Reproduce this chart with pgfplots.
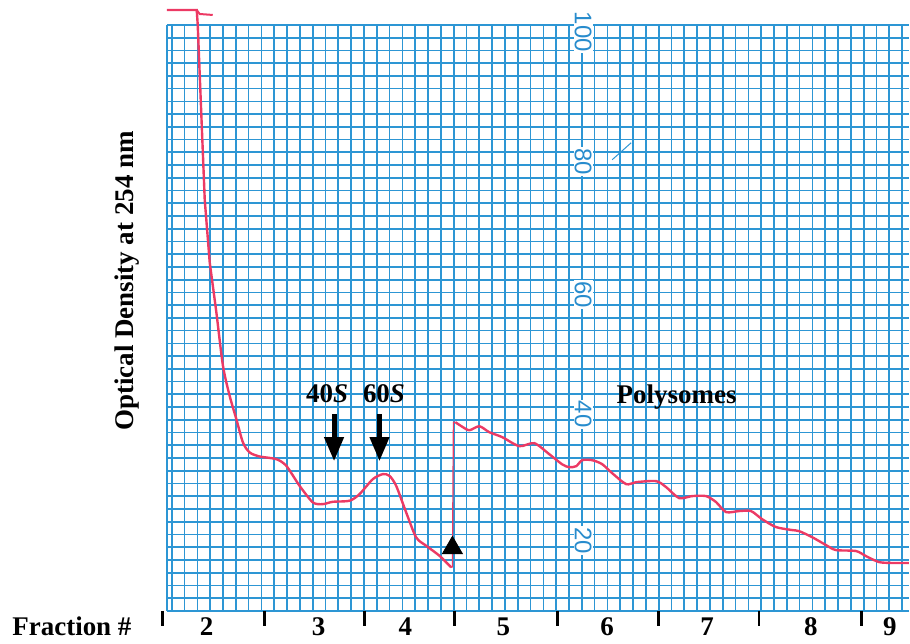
\documentclass[border=0pt]{standalone}
\usepackage{fontspec}
\setmainfont{Liberation Serif}
\setsansfont{Liberation Sans}
\usepackage{pgfplots}
\pgfplotsset{compat=1.18}
\usetikzlibrary{arrows.meta}
\definecolor{gridblue}{RGB}{45,150,212}
\definecolor{labblue}{RGB}{40,140,205}
\definecolor{tracered}{RGB}{236,58,100}
\tikzset{scalelab/.style={rotate=-90, fill=white, inner sep=0.6pt, text=labblue,
        font=\sffamily\fontsize{12}{13}\selectfont},
  boldlab/.style={font=\fontsize{13.5}{15}\selectfont\bfseries},
  fractick/.style={line width=1.5pt}}
\begin{document}
\begin{tikzpicture}
\begin{axis}[
  scale only axis, width=371.5pt, height=293.35pt,
  xmin=167, xmax=910, ymin=8, ymax=100,
  axis line style={draw=none},
  xtick={172,184.83,...,910}, ytick={8,10,...,100},
  xticklabels={}, yticklabels={},
  major tick length=0pt,
  grid=major, major grid style={gridblue, line width=0.85pt},
  extra x ticks={167}, extra x tick labels={},
  extra x tick style={grid=major, major tick length=0pt},
  clip=false,
]
% invisible frame matching the reference canvas
\path (axis cs:0,103.92) rectangle (axis cs:910,2.82);

% scale labels on the chart paper
\node[scalelab] at (axis cs:584,98.9) {100};
\node[scalelab] at (axis cs:584,78.5) {80};
\node[scalelab] at (axis cs:584,57.7) {60};
\node[scalelab] at (axis cs:584,38.9) {40};
\node[scalelab] at (axis cs:584,19.0) {20};
\draw[gridblue, line width=0.5pt] (axis cs:613,78.84) -- (axis cs:632,81.50);

% trace: pen start (top)
\addplot[tracered, line width=1.2pt] coordinates {
 (167,102.35) (197,102.35) (198,100.0) (205,72.57) (210,62.70)
};
\addplot[tracered, line width=1.0pt] coordinates {
 (197,102.35) (200,101.72) (213,101.57)
};
% trace: gradient profile up to the pen jump
\addplot[tracered, line width=1.2pt, smooth, tension=0.45] coordinates {
 (210,62.70) (216.7,54.8) (223.3,46.44) (230,41.74) (236.7,38.09) (243.3,34.43)
 (250,32.87) (260,32.24) (276.7,31.82) (286.7,30.77) (300,27.63) (313.3,25.03)
 (323.3,24.76) (333.3,25.13) (350,25.29) (360,26.33) (373.3,28.68) (383.3,29.47)
 (390,29.20) (396.7,27.63) (406.7,23.46) (416.7,19.54) (426.7,18.23) (440,16.66)
 (451.7,14.85)
};
% pen jump
\addplot[tracered, line width=0.6pt] coordinates {
 (451.7,14.85) (453,14.9) (454,37.62) (456,37.62)
};
% polysome region
\addplot[tracered, line width=1.2pt, smooth, tension=0.45] coordinates {
 (456,37.62) (463,36.9) (470,36.36) (480,36.99) (490,36.05) (503,35.27) (520,33.86)
 (535,34.33) (550,32.60) (563,31.0) (570,30.56) (577,30.72) (583,31.66) (593,31.66)
 (603,31.03) (613,29.62) (627,27.90) (637,28.21) (657,28.37) (667,27.43)
 (680,25.71) (693,26.02) (707,26.02) (717,25.08) (727,23.51) (740,23.67)
 (752,23.67) (763,22.41) (777,21.16) (793,20.69) (800,20.53) (813,19.59)
 (827,18.34) (837,17.55) (857,17.40) (867,16.61) (880,15.67) (893,15.52)
 (910,15.52)
};
% start-of-polysome marker
\addplot[only marks, mark=triangle*, mark size=5.8pt, black] coordinates {(453,17.87)};

% peak labels and arrows
\node[anchor=base, boldlab] at (axis cs:327.5,40.75) {40\textit{S}};
\node[anchor=base, boldlab] at (axis cs:384.5,40.75) {60\textit{S}};
\draw[line width=2.5pt, -{Triangle[width=9.3pt,length=12pt]}] (axis cs:334.5,38.87) -- (axis cs:334.5,31.50);
\draw[line width=2.5pt, -{Triangle[width=9.3pt,length=12pt]}] (axis cs:380,38.87) -- (axis cs:380,31.50);
\node[anchor=base, boldlab] at (axis cs:677.5,40.60) {Polysomes};

% y label
\node[rotate=90, anchor=base, boldlab] at (axis cs:134,59.80) {Optical Density at 254 nm};

% fraction row
\node[anchor=base west, inner sep=0pt, boldlab] at (axis cs:12,4.08) {Fraction \#};
\draw[fractick] (axis cs:163,7.99) -- (axis cs:163,5.64);
\draw[fractick] (axis cs:265,7.99) -- (axis cs:265,5.64);
\draw[fractick] (axis cs:365,7.99) -- (axis cs:365,5.64);
\draw[fractick] (axis cs:455,7.99) -- (axis cs:455,5.64);
\draw[fractick] (axis cs:558,7.99) -- (axis cs:558,5.64);
\draw[fractick] (axis cs:659,7.99) -- (axis cs:659,5.64);
\draw[fractick] (axis cs:760,7.99) -- (axis cs:760,5.64);
\draw[fractick] (axis cs:863,7.99) -- (axis cs:863,5.64);
\node[anchor=base, boldlab] at (axis cs:207,4.08) {2};
\node[anchor=base, boldlab] at (axis cs:319,4.08) {3};
\node[anchor=base, boldlab] at (axis cs:406,4.08) {4};
\node[anchor=base, boldlab] at (axis cs:504,4.08) {5};
\node[anchor=base, boldlab] at (axis cs:608,4.08) {6};
\node[anchor=base, boldlab] at (axis cs:708,4.08) {7};
\node[anchor=base, boldlab] at (axis cs:812,4.08) {8};
\node[anchor=base, boldlab] at (axis cs:891,4.08) {9};
\end{axis}
\end{tikzpicture}
\end{document}
